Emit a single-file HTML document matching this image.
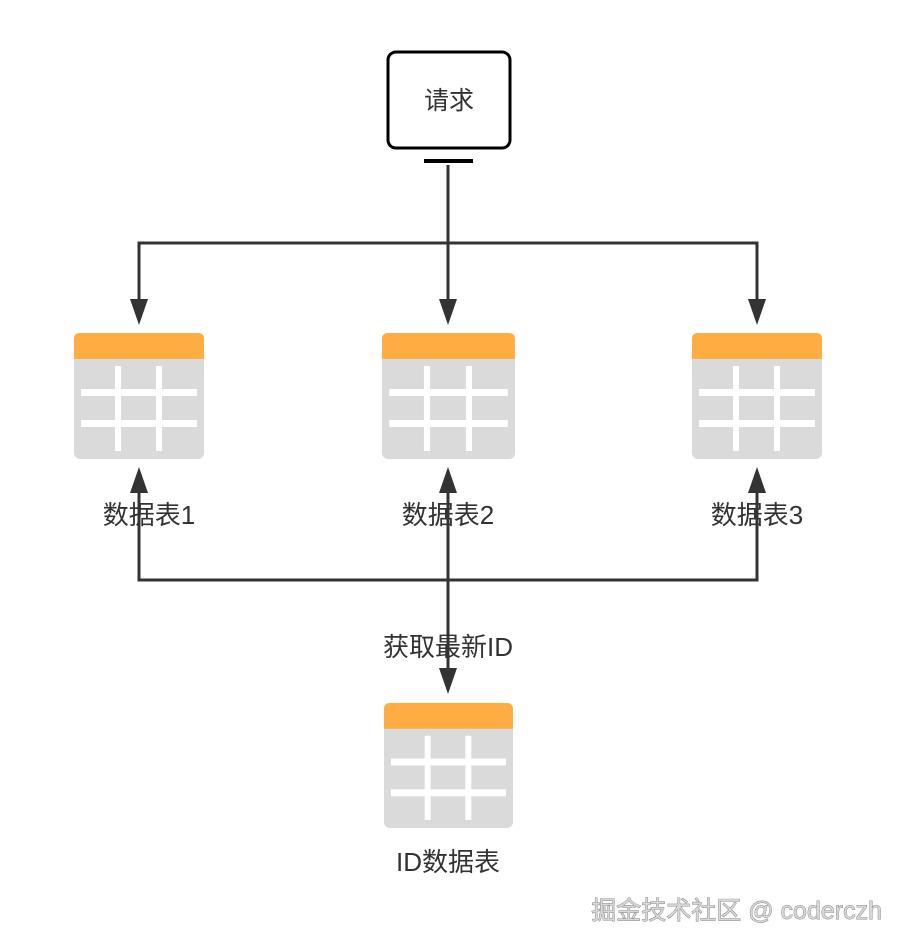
<!DOCTYPE html>
<html><head><meta charset="utf-8"><style>
html,body{margin:0;padding:0;background:#fff;}
svg{display:block}
text{font-family:"Liberation Sans","Noto Sans CJK SC",sans-serif;fill:#333;}
</style></head><body>
<svg width="908" height="950" viewBox="0 0 908 950" xmlns="http://www.w3.org/2000/svg">
<defs>
<g id="tbl">
<rect x="0" y="0" width="130" height="126" rx="6" fill="#dadada"/>
<path d="M0 26 V6 Q0 0 6 0 H124 Q130 0 130 6 V26 Z" fill="#ffad42"/>
<rect x="41" y="33" width="6" height="85" fill="#fff"/>
<rect x="82" y="33" width="6" height="85" fill="#fff"/>
<rect x="7" y="56" width="116" height="7" fill="#fff"/>
<rect x="7" y="87" width="116" height="7" fill="#fff"/>
</g>
</defs>
<rect x="388" y="52" width="122" height="96" rx="8" fill="#fff" stroke="#000" stroke-width="3"/>
<rect x="424" y="159" width="49" height="4" fill="#000"/>
<text x="449" y="109" font-size="25" text-anchor="middle">请求</text>
<g stroke="#333" stroke-width="3" fill="none">
<path d="M448 165 V300"/>
<path d="M139 300 V243 H757 V300"/>
<path d="M139 490 V580 H757 V490"/>
<path d="M448 490 V670"/>
</g>
<g fill="#333">
<path d="M130 299 L148 299 L139 325 Z"/>
<path d="M439 299 L457 299 L448 325 Z"/>
<path d="M748 299 L766 299 L757 325 Z"/>
<path d="M130 493 L148 493 L139 467 Z"/>
<path d="M748 493 L766 493 L757 467 Z"/>
<path d="M439 493 L457 493 L448 467 Z"/>
<path d="M439 668 L457 668 L448 694 Z"/>
</g>
<g transform="translate(74 333)"><use href="#tbl"/></g>
<g transform="translate(382 333) scale(1.023 1)"><use href="#tbl"/></g>
<g transform="translate(692 333)"><use href="#tbl"/></g>
<g transform="translate(384 703) scale(0.992 0.992)"><use href="#tbl"/></g>
<text x="149" y="524" font-size="26" text-anchor="middle">数据表1</text>
<text x="448" y="524" font-size="26" text-anchor="middle">数据表2</text>
<text x="757" y="524" font-size="26" text-anchor="middle">数据表3</text>
<text x="448" y="656" font-size="26" text-anchor="middle">获取最新ID</text>
<text x="448" y="871" font-size="26" text-anchor="middle">ID数据表</text>
<text x="882" y="919" font-size="25" text-anchor="end" style="fill:#d8d8d8;stroke:#666;stroke-width:0.7;paint-order:stroke">掘金技术社区 @ coderczh</text>
</svg>
</body></html>
